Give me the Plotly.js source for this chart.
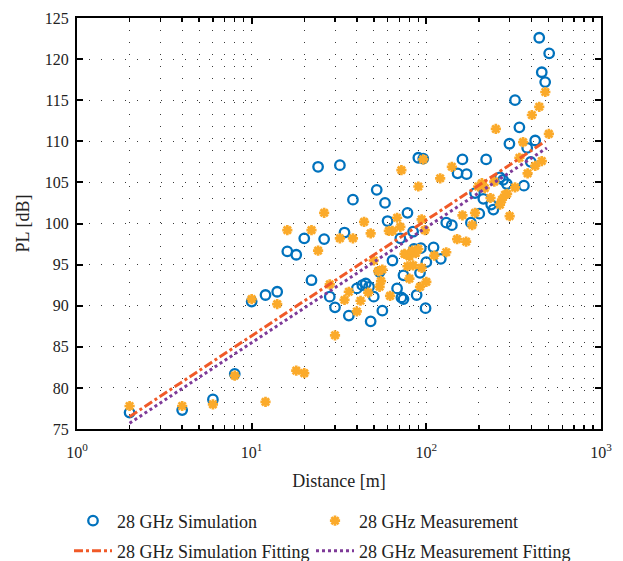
<!DOCTYPE html>
<html>
<head>
<meta charset="utf-8">
<script src="https://cdn.plot.ly/plotly-3.0.1.min.js"></script>
<style>
  html, body { margin: 0; padding: 0; background: #fff; }
  #chart { width: 623px; height: 561px; }
</style>
</head>
<body>
<div id="chart"></div>
<script>
// Path loss versus distance at 28 GHz: ray-tracing simulation, measurements and their fits.
const simDist = [2,4,6,8,10,12,14,16,18,20,22,24,26,28,30,32,34,36,38,40,43,45,47,48,50,52,54,56,58,60,64,68,71,72,74,74,78,84,85,88,90,92,93,96,99,100,110,121,130,140,151,161,170,180,190,201,212,220,235,242,264,275,289,299,322,341,362,378,396,420,443,458,479,505];
const simPL = [77.0,77.3,78.6,81.7,90.5,91.3,91.7,96.6,96.2,98.2,93.1,106.9,98.1,91.1,89.8,107.1,98.9,88.8,102.9,92.1,92.5,92.7,92.3,88.1,91.1,104.1,94.1,89.4,102.5,100.3,95.5,92.1,98.2,91.0,90.8,93.7,101.3,99.0,96.9,91.3,108.0,94.0,97.0,107.9,89.7,95.3,97.1,95.7,100.1,99.8,106.1,107.8,106.0,100.1,103.7,101.2,103.0,107.8,102.3,101.7,105.6,105.3,104.8,109.7,115.0,111.7,104.6,109.2,107.5,110.1,122.6,118.4,117.2,120.7];

const measDist = [2,4,6,8,10,12,14,16,18,20,22,24,26,28,30,32,34,36,38,40,42,44,46.5,48,50,53,54,55,56,61,62,64,68,71,72,75,78,80,80,83,84,87,90,90,92,94,94,96,98,100,111,120,130,140,150,161,169,183,190,198,208,216,233,245,250,264,271,282,290,300,322,341,358,380,402,420,443,458,480,503];
const measPL = [77.8,77.8,78.0,81.5,90.8,78.3,90.2,99.2,82.1,81.8,99.2,96.7,101.3,92.6,86.4,98.2,90.7,91.7,98.2,89.3,90.6,100.2,91.6,98.8,95.5,94.2,92.3,93.0,94.4,99.1,91.2,99.1,100.7,99.6,106.5,96.3,94.8,96.0,93.3,96.7,94.9,96.4,104.5,96.9,92.3,100.5,94.6,107.8,99.2,92.9,96.1,105.5,96.5,106.9,98.1,101.0,97.8,99.8,101.3,104.5,104.9,104.3,103.1,105.1,111.5,102.3,102.9,103.5,103.6,100.9,104.4,108.0,109.9,106.1,113.2,107.0,114.2,107.6,116.0,110.9];

// Fitted log-distance lines (end points)
const simFitDist = [2, 480];
const simFitPL = [76.5, 110.0];
const measFitDist = [2, 490];
const measFitPL = [75.7, 109.2];

// Axis ticks
const xTickVals = [1, 10, 100, 1000];
const xTickText = ['10<sup>0</sup>', '10<sup>1</sup>', '10<sup>2</sup>', '10<sup>3</sup>'];
const yTickVals = [75, 80, 85, 90, 95, 100, 105, 110, 115, 120, 125];

const xMinorVals = [];
for (const dec of [1, 10, 100]) {
  for (let k = 2; k <= 9; k++) xMinorVals.push(k * dec);
}

const FONT = 'Liberation Serif, serif';
const TEXT = '#222';
const gridDash = '1px,11px';
const gridColor = '#3a3a3a';

const traces = [
  {
    x: simDist, y: simPL, type: 'scatter', mode: 'markers',
    name: '28 GHz Simulation', legend: 'legend',
    marker: { symbol: 'circle-open', size: 9.5, color: '#0072BD', line: { width: 2.3, color: '#0072BD' } }
  },
  {
    x: measDist, y: measPL, type: 'scatter', mode: 'markers',
    name: '28 GHz Measurement', legend: 'legend2',
    marker: { symbol: 'asterisk-open', size: 8.5, color: '#FBAA2A', line: { width: 2.7, color: '#FBAA2A' } }
  },
  {
    x: simFitDist, y: simFitPL, type: 'scatter', mode: 'lines',
    name: '28 GHz Simulation Fitting', legend: 'legend3',
    line: { color: '#F05A28', width: 3, dash: 'dashdot' }
  },
  {
    x: measFitDist, y: measFitPL, type: 'scatter', mode: 'lines',
    name: '28 GHz Measurement Fitting', legend: 'legend4',
    line: { color: '#7E3A98', width: 3, dash: 'dot' }
  }
];

// One legend box per entry, laid out as a 2x2 block under the axes
function legendAt(px, py) {
  return {
    orientation: 'h',
    xref: 'container', yref: 'container',
    x: px / 623, y: 1 - py / 561,
    xanchor: 'left', yanchor: 'middle',
    itemwidth: 38,
    font: { family: FONT, size: 18, color: TEXT },
    bgcolor: 'rgba(0,0,0,0)', borderwidth: 0
  };
}

const layout = {
  width: 623, height: 561,
  margin: { l: 77, r: 22, t: 18, b: 132, autoexpand: false },
  paper_bgcolor: '#fff', plot_bgcolor: '#fff',
  font: { family: FONT, size: 16, color: TEXT },
  showlegend: true,
  legend: legendAt(69, 521),
  legend2: legendAt(311, 521),
  legend3: legendAt(69, 551),
  legend4: legendAt(311, 551),
  xaxis: {
    type: 'log', range: [0, 3],
    tickmode: 'array', tickvals: xTickVals, ticktext: xTickText,
    ticks: 'inside', ticklen: 6, tickwidth: 2, tickcolor: '#000',
    ticklabelstandoff: 8,
    showline: true, linewidth: 2, linecolor: '#000', mirror: 'ticks',
    showgrid: true, gridcolor: gridColor, gridwidth: 1, griddash: gridDash,
    zeroline: false,
    tickfont: { family: FONT, size: 16, color: TEXT },
    minor: {
      tickmode: 'array', tickvals: xMinorVals,
      ticks: 'inside', ticklen: 4, tickwidth: 1.5, tickcolor: '#000',
      showgrid: true, gridcolor: gridColor, gridwidth: 1, griddash: gridDash
    },
    title: { text: 'Distance [m]', font: { family: FONT, size: 18, color: TEXT }, standoff: 14 }
  },
  yaxis: {
    range: [75, 125],
    tickmode: 'array', tickvals: yTickVals,
    ticks: 'inside', ticklen: 6, tickwidth: 2, tickcolor: '#000',
    ticklabelstandoff: 3,
    showline: true, linewidth: 2, linecolor: '#000', mirror: 'ticks',
    showgrid: true, gridcolor: gridColor, gridwidth: 1, griddash: gridDash,
    zeroline: false,
    tickfont: { family: FONT, size: 16, color: TEXT },
    title: { text: 'PL [dB]', font: { family: FONT, size: 18, color: TEXT }, standoff: 10 }
  }
};

Plotly.newPlot('chart', traces, layout, { displayModeBar: false, staticPlot: true });
</script>
</body>
</html>
